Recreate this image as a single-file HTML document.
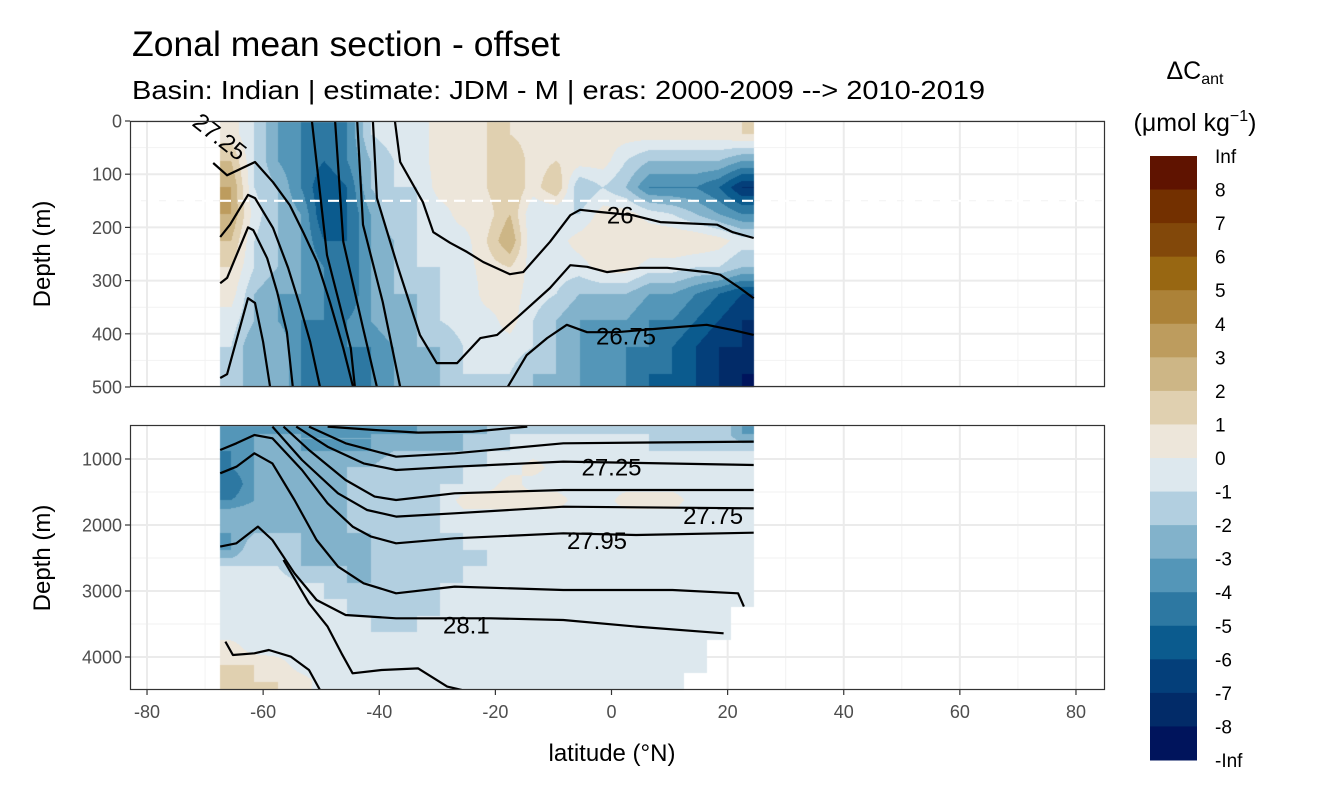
<!DOCTYPE html>
<html><head><meta charset="utf-8">
<style>
body{margin:0;background:#fff;width:1344px;height:806px;overflow:hidden;position:relative;font-family:"Liberation Sans",sans-serif}
svg,canvas{position:absolute;left:0;top:0}
</style></head>
<body>
<svg id="bg" width="1344" height="806"></svg>
<canvas id="cv" width="1344" height="806"></canvas>
<svg id="fg" width="1344" height="806" font-family="Liberation Sans, sans-serif">
  <text x="132" y="56" font-size="35" textLength="428" lengthAdjust="spacingAndGlyphs" fill="#000">Zonal mean section - offset</text>
  <text x="132" y="99" font-size="26" textLength="853" lengthAdjust="spacingAndGlyphs" fill="#000">Basin: Indian | estimate: JDM - M | eras: 2000-2009 --&gt; 2010-2019</text>
  <text x="612" y="761" font-size="24" text-anchor="middle" fill="#000">latitude (°N)</text>
  <text transform="translate(50,254) rotate(-90)" font-size="24" text-anchor="middle" fill="#000">Depth (m)</text>
  <text transform="translate(50,558) rotate(-90)" font-size="24" text-anchor="middle" fill="#000">Depth (m)</text>
  <text x="1195" y="79" font-size="25" text-anchor="middle" fill="#000">ΔC<tspan font-size="16" dy="5">ant</tspan></text>
  <text x="1195" y="131" font-size="25" text-anchor="middle" fill="#000">(μmol kg<tspan font-size="16" dy="-10">−1</tspan><tspan dy="10">)</tspan></text>
</svg>
<script>
// ---------- data ----------
const colorBins=["#5f1300","#733000","#82480a","#986712","#ac8238","#bd9c5e","#cdb686","#e0d0b0","#ede6da","#dde8ee","#b2cfe0","#82b2cb","#5496b8","#2d78a2","#0b5b8e","#043f7a","#022b68","#00145c"];
const legendLabels=["Inf","8","7","6","5","4","3","2","1","0","-1","-2","-3","-4","-5","-6","-7","-8","-Inf"];
const xTicks=[-80,-60,-40,-20,0,20,40,60,80];
const topYTicks=[0,100,200,300,400,500];
const botYTicks=[1000,2000,3000,4000];
const latCenters=[-65.5,-61.5,-57.5,-53.5,-49.5,-45.5,-41.5,-37.5,-33.5,-29.5,-25.5,-21.5,-17.5,-13.5,-9.5,-5.5,-1.5,2.5,6.5,10.5,14.5,18.5,22.5];
const topDepths=[25,75,125,175,225,275,325,375,425,475];
const botDepths=[625,875,1125,1375,1625,1875,2125,2375,2625,2875,3125,3375,3625,3875,4125,4375];
const topCols=[
[0.5,2,3,3,2,1,0.5,-0.5,-1,-1],
[-1,-1,-1,-0.5,-1,-1,-2,-2,-3,-3],
[-3,-3,-2,-2,-2,-2,-3,-3,-2,-2],
[-4,-4,-4,-3,-3,-3,-3,-4,-4,-4],
[-5,-5,-6,-6,-5,-4,-4,-4,-4,-4],
[-4,-4,-5,-5,-5,-5,-5,-4,-4,-4],
[-1,-2,-2,-3,-3,-3,-3,-3,-4,-4],
[-0.5,-1,-1,-1,-2,-2,-2,-2,-3,-3],
[-0.5,-0.5,-1,-1,-1,-1,-2,-2,-2,-2],
[0.5,0.5,0.5,-0.5,-0.5,-1,-1,-1,-2,-2],
[0.5,1,0.5,0.5,-0.5,-0.5,-1,-0.5,-1,-1],
[1,1,1,0.5,1,0.5,0.5,-0.5,-0.5,-1],
[1,2,2,2,3,1,0.5,0.5,-0.5,-1],
[0.5,0.5,0.5,-1,-1,-0.5,-0.5,-1,-1,-2],
[0.5,1,2,-1,-0.5,-0.5,-1,-2,-2,-2],
[0.5,0.5,-2,-1,0.5,-0.5,-2,-3,-3,-3],
[0.5,0.5,-1,0.5,1,0.5,-2,-3,-4,-3],
[0.5,-1,-2,0.5,1,0.5,-2,-3,-4,-4],
[0.5,-2,-4,-0.5,1,-0.5,-3,-4,-4,-5],
[0.5,-2,-4,-1,1,-0.5,-3,-4,-5,-5],
[0.5,-2,-4,-2,1,-1,-4,-5,-6,-6],
[0.5,-2,-5,-3,0.5,-1,-5,-6,-7,-7],
[1,-3,-7,-4,-0.5,-2,-6,-7,-7,-8]];
const N=null;
const botRows=[
[-3,-3,-3,-3,-3,-3,-3,-3,-3,-2,-2,-2,-1,-1,-1,-1,-1,-1,-1,-1,-1,-1,-3],
[-4,-3,-2,-3,-3,-3,-3,-2,-2,-2,-2,-1,-1,-0.5,-0.5,-0.5,-0.5,-0.5,-1,-1,-1,-1,-1],
[-4,-3,-2,-2,-3,-2,-2,-1,-1,-1,-1,-1,-0.5,0.5,-0.5,-0.5,-0.5,-0.5,-0.5,-0.5,-0.5,-0.5,-0.5],
[-5,-3,-2,-2,-2,-2,-1,-1,-1,-1,-1,-0.5,0.5,-0.5,-0.5,-0.5,-0.5,-0.5,-0.5,-0.5,-0.5,-0.5,-0.5],
[-4,-3,-2,-2,-2,-2,-1,-1,-1,-1,0.5,0.5,0.5,0.5,0.5,-0.5,-0.5,0.5,0.5,0.5,-0.5,-0.5,-0.5],
[-2,-2,-2,-2,-2,-2,-1,-1,-1,-1,-0.5,-0.5,-0.5,-0.5,-0.5,-0.5,-0.5,-0.5,-0.5,-0.5,-0.5,-0.5,-0.5],
[-3,-2,-2,-2,-2,-2,-2,-1,-1,-1,-1,-0.5,-0.5,-0.5,-0.5,-0.5,-0.5,-0.5,-0.5,-0.5,-0.5,-0.5,-0.5],
[-3,-1,-1,-2,-2,-2,-2,-1,-1,-1,-1,-1,-0.5,-0.5,-0.5,-0.5,-0.5,-0.5,-0.5,-0.5,-0.5,-0.5,-0.5],
[-1,-1,-1,-2,-2,-2,-2,-1,-1,-1,-1,-1,-0.5,-0.5,-0.5,-0.5,-0.5,-0.5,-0.5,-0.5,-0.5,-0.5,-0.5],
[-0.5,-0.5,-0.5,-1,-1,-2,-2,-1,-1,-1,-1,-0.5,-0.5,-0.5,-0.5,-0.5,-0.5,-0.5,-0.5,-0.5,-0.5,-0.5,-0.5],
[-0.5,-0.5,-0.5,-0.5,-1,-1,-1,-1,-1,-1,-0.5,-0.5,-0.5,-0.5,-0.5,-0.5,-0.5,-0.5,-0.5,-0.5,-0.5,-0.5,-0.5],
[-0.5,-0.5,-0.5,-0.5,-0.5,-1,-1,-1,-1,-1,-0.5,-0.5,-0.5,-0.5,-0.5,-0.5,-0.5,-0.5,-0.5,-0.5,-0.5,-0.5,N],
[-0.5,-0.5,-0.5,-0.5,-0.5,-0.5,-1,-1,-1,-0.5,-0.5,-0.5,-0.5,-0.5,-0.5,-0.5,-0.5,-0.5,-0.5,-0.5,-0.5,-0.5,N],
[0.5,-0.5,-0.5,-0.5,-0.5,-0.5,-0.5,-0.5,-0.5,-0.5,-0.5,-0.5,-0.5,-0.5,-0.5,-0.5,-0.5,-0.5,-0.5,-0.5,-0.5,N,N],
[1,1,0.5,-0.5,-0.5,-0.5,-0.5,-0.5,-0.5,-0.5,-0.5,-0.5,-0.5,-0.5,-0.5,-0.5,-0.5,-0.5,-0.5,-0.5,-0.5,N,N],
[1,1,1,0.5,-0.5,-0.5,-0.5,-0.5,-0.5,-0.5,-0.5,-0.5,-0.5,-0.5,-0.5,-0.5,-0.5,-0.5,-0.5,-0.5,N,N,N]];
// contour lines (lat, depth)
const topLineLats=[
[-68.6,-66.2,-61.4,-58.3,-55.4,-53.1,-50.7,-48.5,-46.2,-44.5],
[-67.4,-65.7,-62.6,-61.4,-58.3,-55.7,-53.7,-51.9,-50.2],
[-67.4,-66.2,-62.6,-61.7,-59.3,-57.6,-55.9,-54.9],
[-67.4,-66.2,-62.6,-61.4,-60.0,-58.8],
[-51.6,-49.0,-44.9,-44.2],
[-47.6,-46.2,-42.8,-40.4],
[-43.8,-42.8,-39.4,-36.4],
[-41.1,-40.4,-36.9,-33.0,-30.1,-26.6,-22.6,-19.7,-15.8,-10.6,-7.1,-4.2,-0.8,4.9,9.6,16.4,18.7,22.1,24.5],
[-37.3,-36.4,-32.5,-30.7,-27.8,-24.9,-22.1,-17.5,-15.2,-10.6,-7.1,-5.4,-2.0,3.7,8.4,18.2,20.9,24.5],
[-18.0,-14.6,-11.1,-7.7,-4.2,0.9,9.6,16.4,20.9,24.5]];
const topLineDepths=[
[79,102,77,115,158,209,265,340,427,500],
[218,195,139,145,201,276,346,415,500],
[305,295,200,205,258,321,397,500],
[483,476,333,342,415,500],
[0,252,427,500],
[0,227,389,500],
[0,195,340,500],
[0,145,271,402,455,455,408,402,365,314,271,274,284,276,276,284,289,314,333],
[0,77,152,209,229,246,265,288,284,227,177,167,171,177,190,195,209,220],
[502,440,408,383,397,397,389,383,393,402]];
const botLineLats=[
[-48.9,-40.8,-33.3,-23.9,-14.5],
[-52.1,-45.8,-37.1,-27.0,-8.3,24.5],
[-54.3,-48.9,-42.7,-37.1,-27.0,-8.3,24.5],
[-56.5,-52.1,-45.8,-40.8,-37.1,-27.0,-8.3,24.5],
[-58.4,-53.3,-47.1,-42.1,-37.1,-27.0,-8.3,24.5],
[-67.4,-64.6,-61.5,-58.4,-53.3,-48.9,-44.6,-41.4,-37.1,-27.0,-8.3,4.3,24.5],
[-67.4,-64.6,-61.5,-58.4,-54.6,-50.8,-47.1,-42.7,-37.1,-27.0,-8.3,10.5,21.8,22.8],
[-67.4,-64.6,-60.9,-58.4,-54.6,-50.8,-45.8,-37.1,-20.8,-8.3,4.3,19.3],
[-66.5,-65.2,-61.5,-59.0,-55.2,-52.1,-50.2],
[-56.5,-52.1,-48.9,-46.5,-44.6,-39.6,-33.3,-28.3,-25.8]];
const botLineDepths=[
[509,560,600,585,509],
[509,762,965,914,762,737],
[509,813,1066,1167,1116,1040,1091],
[509,863,1318,1570,1621,1520,1469,1469],
[509,1015,1520,1772,1873,1823,1722,1747],
[863,762,636,687,1167,1671,2025,2176,2277,2202,2126,2151,2116],
[1217,1116,914,1066,1621,2227,2631,2884,3035,2934,2985,2985,3035,3237],
[2328,2277,2025,2227,2732,3136,3364,3414,3414,3439,3540,3641],
[3767,3970,3944,3894,3995,4197,4500],
[2530,3187,3540,3944,4247,4197,4172,4449,4500]];
const topLabels=["27.25","26","26.75"], topLabelLat=[-67.5,1.5,2.5], topLabelDepth=[30,178,405];
const botLabels=["27.25","27.75","27.95","28.1"], botLabelLat=[0,17.5,-2.5,-25], botLabelDepth=[1130,1860,2240,3520];

// ---------- scales ----------
const PX0=130,PX1=1105, TOP0=121,TOP1=387, BOT0=425,BOT1=690;
const LATMIN=-67.5,LATMAX=24.5;
const xs=lat=>611.5+lat*5.806;
const yTop=d=>121+d*0.532;
const yBot=d=>459+(d-1000)*0.066;
const NS="http://www.w3.org/2000/svg";
function mk(parent,tag,attrs){const e=document.createElementNS(NS,tag);for(const k in attrs)e.setAttribute(k,attrs[k]);parent.appendChild(e);return e;}
const bg=document.getElementById('bg'), fg=document.getElementById('fg');

// grid
function grid(y0,y1,ys,majors,minors){
  [-70,-50,-30,-10,10,30,50,70].forEach(v=>{const l=mk(bg,'line',{x1:xs(v),x2:xs(v),y1:y0,y2:y1,stroke:'#f2f2f2','stroke-width':1});
    
    });
  minors.forEach(v=>{const l=mk(bg,'line',{x1:PX0,x2:PX1,y1:ys(v),y2:ys(v),stroke:'#f2f2f2','stroke-width':1});
    
    });
  xTicks.forEach(v=>{const l=mk(bg,'line',{x1:xs(v),x2:xs(v),y1:y0,y2:y1,stroke:'#ebebeb','stroke-width':2});
    
    });
  majors.forEach(v=>{const l=mk(bg,'line',{x1:PX0,x2:PX1,y1:ys(v),y2:ys(v),stroke:'#ebebeb','stroke-width':2});
    
    });
}
grid(TOP0,TOP1,yTop,topYTicks,[50,150,250,350,450]);
grid(BOT0,BOT1,yBot,botYTicks,[1500,2500,3500]);

// heatmap
const ctx=document.getElementById('cv').getContext('2d');
function binIdx(v){return v>=0?Math.max(0,8-Math.floor(v)):Math.min(17,9+Math.floor(-v));}
function hexRgb(h){return [parseInt(h.substr(1,2),16),parseInt(h.substr(3,2),16),parseInt(h.substr(5,2),16)];}
const rgbBins=colorBins.map(hexRgb);
function drawField(get,nr,depths,y0,y1,inv){
  const x0=Math.round(xs(LATMIN)), x1=Math.round(xs(LATMAX));
  const img=ctx.createImageData(x1-x0,y1-y0);
  for(let py=y0;py<y1;py++){
    const d=inv(py+0.5);
    let fr=0;for(let i=0;i<depths.length-1;i++){ if(d>=depths[i]) fr=i+(Math.min(d,depths[i+1])-depths[i])/(depths[i+1]-depths[i]); }
    if(d<depths[0]) fr=0; if(d>depths[depths.length-1]) fr=depths.length-1;
    for(let px=x0;px<x1;px++){
      const lat=(px+0.5-611.5)/5.806;
      let fc=(lat-latCenters[0])/4; fc=Math.max(0,Math.min(latCenters.length-1,fc));
      const c0=Math.floor(fc),r0=Math.floor(fr);
      const c1=Math.min(c0+1,latCenters.length-1),r1=Math.min(r0+1,depths.length-1);
      const tc=fc-c0,tr=fr-r0;
      const near=get(Math.round(fr),Math.round(fc));
      if(near===null) continue;
      const g=(r,c)=>{const v=get(r,c);return v===null?near:v;};
      const v=(g(r0,c0)*(1-tc)+g(r0,c1)*tc)*(1-tr)+(g(r1,c0)*(1-tc)+g(r1,c1)*tc)*tr;
      const col=rgbBins[binIdx(v)];
      const k=((py-y0)*(x1-x0)+(px-x0))*4;
      img.data[k]=col[0];img.data[k+1]=col[1];img.data[k+2]=col[2];img.data[k+3]=255;
    }
  }
  const t=document.createElement('canvas');t.width=x1-x0;t.height=y1-y0;t.getContext('2d').putImageData(img,0,0);
  ctx.drawImage(t,x0,y0);
}
drawField((r,c)=>topCols[c][r],10,topDepths,TOP0+1,TOP1,py=>(py-121)/0.532);
drawField((r,c)=>botRows[r][c],16,botDepths,BOT0+1,BOT1,py=>(py-459)/0.066+1000);

// clip paths
const defs=mk(fg,'defs',{});
const cpT=mk(defs,'clipPath',{id:'cpT'});mk(cpT,'rect',{x:PX0,y:TOP0,width:PX1-PX0,height:TOP1-TOP0});
const cpB=mk(defs,'clipPath',{id:'cpB'});mk(cpB,'rect',{x:PX0,y:BOT0,width:PX1-PX0,height:BOT1-BOT0});

// dashed line at 150 m
const dl=mk(fg,'line',{x1:PX0,x2:PX1,y1:yTop(150),y2:yTop(150),stroke:'#fff','stroke-width':2.2,'stroke-dasharray':'11 7'});



function lines(lats,deps,ys,clip,prefix){
  const g=mk(fg,'g',{'clip-path':'url(#'+clip+')'});
  lats.forEach((la,i)=>{
    const d=la.map((v,j)=>(j?'L':'M')+xs(v).toFixed(1)+' '+ys(deps[i][j]).toFixed(1)).join(' ');
    const p=mk(g,'path',{d:d,fill:'none',stroke:'#000','stroke-width':2.2,'stroke-linejoin':'round'});
    
    
  });
}
lines(topLineLats,topLineDepths,yTop,'cpT','top');
lines(botLineLats,botLineDepths,yBot,'cpB','bottom');

function labels(txts,la,de,ys,prefix){
  txts.forEach((t,i)=>{
    const x=xs(la[i]),y=ys(de[i]);
    const e=mk(fg,'text',{x:x,y:y+8,'font-size':24,'text-anchor':'middle',fill:'#000'});
    if(prefix==='top'&&i===0){e.setAttribute('transform','rotate(38 '+x+' '+y+')');}
    e.textContent=t;
    
    
  });
}
labels(topLabels,topLabelLat,topLabelDepth,yTop,'top');
labels(botLabels,botLabelLat,botLabelDepth,yBot,'bottom');

// panel borders
[[TOP0,TOP1,'top-panel-border'],[BOT0,BOT1,'bottom-panel-border']].forEach(b=>{
  const r=mk(fg,'rect',{x:PX0+0.5,y:b[0]+0.5,width:PX1-PX0-1,height:b[1]-b[0]-1,fill:'none',stroke:'#333','stroke-width':1.2});
  
  
});
// y ticks
function yticks(vals,ys,prefix){vals.forEach(v=>{
  const t=mk(fg,'line',{x1:PX0-5,x2:PX0,y1:ys(v),y2:ys(v),stroke:'#333','stroke-width':1.2});
  
  
  const l=mk(fg,'text',{x:PX0-8,y:ys(v)+6.5,'font-size':18,'text-anchor':'end',fill:'#4d4d4d'});
  l.textContent=v;
  
  
});}
yticks(topYTicks,yTop,'top');yticks(botYTicks,yBot,'bottom');
xTicks.forEach(v=>{
  const t=mk(fg,'line',{x1:xs(v),x2:xs(v),y1:BOT1,y2:BOT1+5,stroke:'#333','stroke-width':1.2});
  
  
  const l=mk(fg,'text',{x:xs(v),y:BOT1+28,'font-size':18,'text-anchor':'middle',fill:'#4d4d4d'});
  l.textContent=v;
  
  
});
// legend
const LY0=156,LY1=760,bh=(LY1-LY0)/colorBins.length;
colorBins.forEach((c,i)=>{
  const r=mk(fg,'rect',{x:1150,y:LY0+i*bh,width:47,height:bh+0.5,fill:c});
  
  
});
legendLabels.forEach((t,i)=>{
  const l=mk(fg,'text',{x:1215,y:LY0+i*bh+7,'font-size':19,fill:'#000'});
  l.textContent=t;
  
  
});
</script>
</body></html>
